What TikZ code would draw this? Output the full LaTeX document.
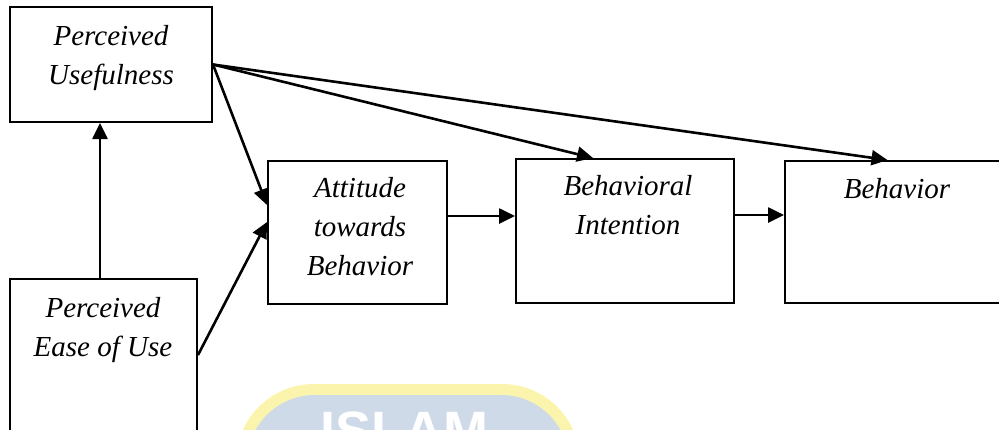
\documentclass[tikz,border=0pt]{standalone}
\usepackage{fontspec}
\setmainfont{Liberation Serif}
\newfontfamily\wmfont{Liberation Sans}
\usetikzlibrary{arrows.meta,calc}
\definecolor{wmyellow}{RGB}{251,244,172}
\definecolor{wmblue}{RGB}{207,218,233}
\begin{document}
\begin{tikzpicture}[x=1pt,y=-1pt,
  box/.style={draw=black, line width=2pt, inner sep=0pt},
  lbl/.style={anchor=north, align=center, inner sep=0pt,
    font=\itshape\fontsize{29}{39}\selectfont},
  arr/.style={line width=2.6pt, -{Triangle[length=16pt,width=15pt]}}]
\useasboundingbox (0,0) rectangle (999,429);

% faint seal in the background
\fill[wmyellow, rounded corners=78pt] (236,384) rectangle (580,540);
\fill[wmblue, rounded corners=68pt] (247,395) rectangle (569,540);
\node[anchor=base west, inner sep=0pt, text=white,
  font=\wmfont\bfseries\fontsize{54}{54}\selectfont] (wm) at (320,449) {ISLAM};

% boxes
\node[box, minimum width=202pt, minimum height=115pt] (pu)   at (111,64.5) {};
\node[box, minimum width=187pt, minimum height=171pt] (peou) at (103.5,364.5) {};
\node[box, minimum width=179pt, minimum height=143pt] (att)  at (357.5,232.5) {};
\node[box, minimum width=218pt, minimum height=144pt] (bi)   at (625,231) {};
\node[box, minimum width=225pt, minimum height=142pt] (beh)  at (897.5,232) {};

% labels
\node[lbl] (tpu)   at (111,25.5)  {Perceived\\Usefulness};
\node[lbl] (tpeou) at (103,297.5) {Perceived\\Ease of Use};
\node[lbl] (tatt)  at (360,177.5) {Attitude\\towards\\Behavior};
\node[lbl] (tbi)   at (628,175.5) {Behavioral\\Intention};
\node[lbl] (tbeh)  at (897,178.5) {Behavior};

% connectors
\coordinate (peouout) at ([xshift=-3.5pt]peou.north);
\draw[arr] (peouout) -- (peouout |- pu.south);
\draw[arr] (pu.east) -- ([yshift=27.5pt]att.west);
\draw[arr] ([yshift=9.5pt]peou.east) -- ([yshift=10.5pt]att.west);
\draw[arr] (pu.east) -- ([xshift=-32pt]bi.north);
\draw[arr] (pu.east) -- ([xshift=-10pt]beh.north);
\coordinate (attout) at ([yshift=16.5pt]att.east);
\draw[arr] (attout) -- (attout -| bi.west);
\coordinate (biout) at ([yshift=16pt]bi.east);
\draw[arr] (biout) -- (biout -| beh.west);
\end{tikzpicture}
\end{document}
